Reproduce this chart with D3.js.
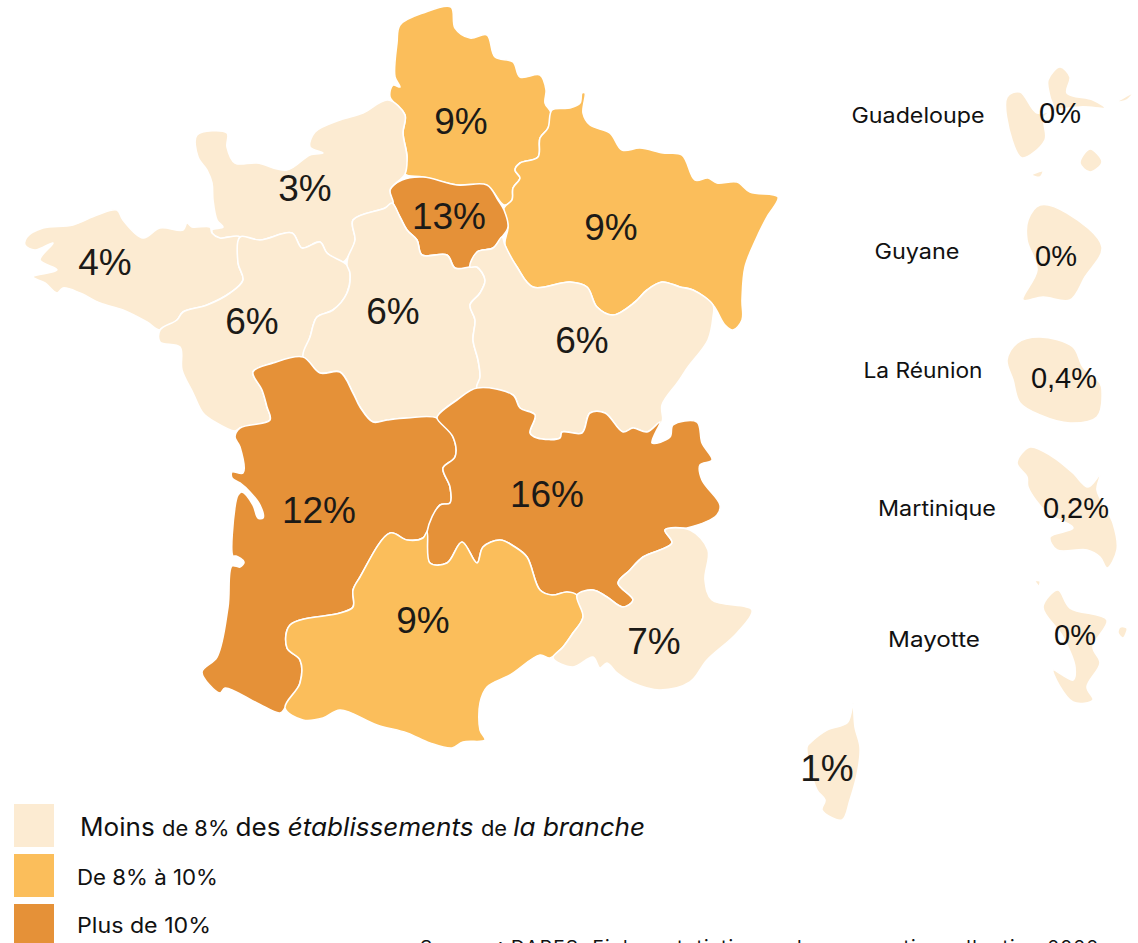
<!DOCTYPE html>
<html lang="fr">
<head>
<meta charset="utf-8">
<title>Répartition régionale des établissements de la branche</title>
<script src="https://cdn.jsdelivr.net/npm/d3@7"></script>
<style>
html, body { margin: 0; background: #fff; overflow: hidden; }
svg { display: block; }
</style>
</head>
<body>
<div id="plot"></div>
<script>
// Regional values, in % of the branch's establishments
const regions = ["Hauts-de-France", "Grand Est", "Île-de-France", "Normandie", "Bretagne", "Pays de la Loire",
    "Centre-Val de Loire", "Bourgogne-Franche-Comté", "Nouvelle-Aquitaine", "Auvergne-Rhône-Alpes",
    "Occitanie", "Provence-Alpes-Côte d'Azur", "Corse"];
const regionValues = [9, 9, 13, 3, 4, 6, 6, 6, 12, 16, 9, 7, 1];

const overseas = ["Guadeloupe", "Guyane", "La Réunion", "Martinique", "Mayotte"];
const overseasValues = [0, 0, 0.4, 0.2, 0];

const legendLabels = ["Moins de 8%", "De 8% à 10%", "Plus de 10%"];
const legendColors = ["#fcebd2", "#fbbe5b", "#e59138"];
const legendBreaks = [8, 10.5];

// Traced outlines, in map units
const outlines = {
    "Hauts-de-France": [[[400,25],[423,13],[451,7],[455,28],[470,38],[487,35],[495,57],[513,62],[520,77],[540,75],[546,90],[545,103],[551,113],[548,128],[540,138],[538,157],[520,163],[515,170],[520,178],[513,188],[512,200],[504,205],[488,187],[457,185],[423,177],[405,174],[407,157],[403,133],[405,115],[390,97],[393,85],[400,87],[395,77],[397,43]]],
    "Grand Est": [[[552,110],[570,108],[580,103],[582,93],[585,93],[583,113],[590,125],[610,133],[622,150],[640,148],[663,153],[682,155],[695,180],[708,178],[717,183],[737,182],[750,192],[778,197],[767,217],[757,237],[745,267],[742,300],[742,320],[733,330],[725,325],[713,305],[693,290],[680,287],[662,282],[647,290],[635,302],[613,315],[597,307],[587,287],[570,282],[533,287],[517,267],[505,245],[508,227],[504,208],[512,200],[513,188],[520,178],[515,170],[520,163],[538,157],[540,138],[548,128]]],
    "Île-de-France": [[[390,190],[402,180],[423,177],[457,185],[487,185],[498,200],[504,210],[508,227],[502,237],[493,248],[477,252],[470,267],[455,268],[447,255],[422,255],[417,240],[407,230],[400,217],[393,203]]],
    "Normandie": [[[197,135],[227,133],[227,147],[235,163],[257,163],[287,170],[310,155],[323,153],[310,147],[315,132],[340,120],[363,113],[388,100],[405,115],[403,133],[407,157],[405,174],[390,190],[393,203],[385,208],[353,220],[355,240],[348,257],[343,262],[327,253],[320,242],[302,248],[292,233],[260,240],[240,237],[227,237],[217,240],[212,230],[223,227],[217,220],[213,200],[212,183],[207,170],[198,157]]],
    "Bretagne": [[[27,237],[43,228],[73,225],[97,215],[117,210],[123,220],[143,238],[160,228],[183,230],[187,223],[192,227],[210,227],[212,233],[220,238],[240,237],[238,263],[243,280],[230,293],[207,305],[183,312],[177,320],[160,330],[147,322],[123,310],[100,303],[80,293],[63,288],[57,293],[45,283],[33,277],[57,270],[40,260],[53,243],[35,250],[25,245]]],
    "Pays de la Loire": [[[240,237],[260,240],[292,233],[302,248],[320,242],[327,253],[347,265],[350,273],[347,293],[333,310],[317,317],[310,337],[303,357],[273,363],[253,372],[262,390],[267,407],[270,420],[240,428],[235,431],[215,422],[203,413],[193,393],[182,370],[180,347],[160,342],[160,330],[177,320],[183,312],[207,305],[230,293],[243,280],[238,263]]],
    "Centre-Val de Loire": [[[385,208],[392,203],[400,217],[407,230],[417,240],[422,255],[447,255],[455,268],[470,267],[477,267],[485,280],[480,293],[470,305],[475,320],[473,340],[478,360],[480,377],[477,388],[457,400],[440,413],[437,418],[407,418],[387,420],[373,422],[360,407],[353,393],[340,372],[320,373],[303,357],[310,337],[317,317],[333,310],[347,293],[350,273],[347,265],[348,257],[355,240],[353,220]]],
    "Bourgogne-Franche-Comté": [[[470,267],[477,252],[493,248],[502,237],[505,245],[517,267],[533,287],[570,282],[587,287],[597,307],[613,315],[635,302],[647,290],[662,282],[680,287],[693,290],[713,305],[713,317],[708,340],[688,367],[678,382],[662,405],[662,422],[647,432],[633,428],[623,432],[605,413],[590,413],[582,433],[562,432],[560,438],[537,438],[530,433],[535,415],[520,408],[513,395],[477,388],[480,377],[478,360],[473,340],[475,320],[470,305],[480,293],[485,280],[477,267]]],
    "Nouvelle-Aquitaine": [[[253,372],[273,363],[303,357],[320,373],[340,372],[353,393],[360,407],[373,422],[387,420],[407,418],[437,418],[453,437],[455,457],[443,468],[450,487],[450,503],[440,505],[427,532],[423,538],[407,540],[390,533],[360,577],[353,590],[353,607],[340,613],[290,625],[287,648],[300,660],[300,683],[285,708],[280,713],[257,703],[225,688],[220,693],[202,672],[217,657],[228,607],[232,566],[240,567],[244,562],[236,556],[233,556],[235,507],[238,495],[242,492],[253,505],[258,518],[263,518],[260,505],[250,492],[240,483],[232,478],[232,472],[243,473],[240,447],[235,437],[240,428],[270,420],[267,407],[262,390]]],
    "Auvergne-Rhône-Alpes": [[[437,418],[440,413],[457,400],[477,388],[513,395],[520,408],[535,415],[530,433],[537,438],[560,438],[562,432],[582,433],[590,413],[605,413],[623,432],[633,428],[647,432],[660,422],[652,443],[670,437],[673,425],[697,422],[702,443],[712,460],[700,465],[702,480],[720,505],[717,515],[687,528],[665,530],[672,543],[643,557],[630,570],[618,583],[633,600],[623,607],[607,597],[593,590],[577,595],[567,592],[552,595],[540,590],[527,557],[515,547],[500,540],[483,547],[477,563],[462,542],[447,563],[430,563],[427,532],[440,505],[450,503],[450,487],[443,468],[455,457],[453,437]]],
    "Occitanie": [[[423,538],[427,532],[430,563],[447,563],[462,542],[477,563],[483,547],[500,540],[515,547],[527,557],[540,590],[552,595],[567,592],[577,595],[583,617],[573,633],[563,647],[550,658],[540,655],[510,675],[487,687],[480,703],[480,730],[485,740],[463,742],[452,748],[430,743],[407,733],[377,725],[340,710],[323,718],[303,720],[285,708],[300,683],[300,660],[287,648],[290,625],[340,613],[353,607],[353,590],[360,577],[390,533],[407,540]]],
    "Provence-Alpes-Côte d'Azur": [[[672,543],[665,530],[690,530],[708,550],[705,580],[712,600],[752,610],[737,633],[707,660],[690,682],[660,690],[633,683],[617,673],[607,663],[600,668],[593,657],[573,667],[553,658],[563,647],[573,633],[583,617],[577,595],[593,590],[607,597],[623,607],[633,600],[618,583],[630,570],[643,557]]],
    "Corse": [[[853,703],[855,727],[860,747],[858,770],[850,800],[842,820],[822,810],[825,800],[817,790],[807,747],[810,743],[827,730],[847,723],[851,713]]],
    "Guadeloupe": [[[1007,97],[1020,92],[1037,113],[1053,108],[1050,97],[1048,80],[1060,67],[1070,77],[1067,93],[1093,100],[1105,108],[1080,107],[1045,116],[1045,140],[1022,158],[1012,140]],[[1090,149],[1102,162],[1090,172],[1080,163]],[[1117,102],[1133,93],[1127,100]],[[1032,175],[1043,171],[1040,177]]],
    "Guyane": [[[1040,205],[1067,213],[1102,247],[1085,277],[1070,300],[1043,297],[1023,300],[1037,270],[1027,240],[1028,220]]],
    "La Réunion": [[[1007,360],[1017,343],[1040,337],[1073,347],[1083,367],[1100,383],[1102,390],[1097,417],[1070,423],[1040,415],[1020,403],[1013,380]]],
    "Martinique": [[[1017,463],[1030,447],[1053,457],[1073,473],[1088,487],[1100,475],[1097,490],[1113,523],[1117,550],[1107,568],[1100,557],[1087,550],[1057,550],[1050,537],[1073,528],[1047,513],[1028,487],[1027,477]]],
    "Mayotte": [[[1043,607],[1058,590],[1070,608],[1107,620],[1093,647],[1100,663],[1087,687],[1093,700],[1073,702],[1053,670],[1073,680],[1075,667],[1063,637]],[[1120,627],[1127,628],[1123,638],[1118,633]],[[1035,581],[1040,581],[1039,586]]]
};

// Anchors of the value labels, in map units
const regionLabelAt = [[461,121],[611,227],[449,216],[305,188],[105,262],[252,321],[393,311],[582,340],[319,510],[547,494],[423,620],[654,641],[827,768]];
const overseasValueAt = [[1060,113],[1056,256],[1064,378],[1076,508],[1075,635]];
const overseasNameAt = [[918,115],[917,251],[923,370],[937,508],[934,639]];
const overseasNameWidths = [133, 85, 119, 118, 92];

const width = 1138;
const height = 943;

const color = d3.scaleThreshold().domain(legendBreaks).range(legendColors);
const projection = d3.geoIdentity();
const format_value = v => `${String(v).replace(".", ",")}%`;

// Closed curves soften the traced corners, like the original's blurry raster
const ring_line = d3.line().curve(d3.curveCatmullRomClosed.alpha(0.5));
const ring_path = name => outlines[name].map(ring => ring_line(ring.map(projection))).join("");

const shapes = [
    ...regions.map((name, i) => ({ name, value: regionValues[i] })),
    ...overseas.map((name, i) => ({ name, value: overseasValues[i] }))
];

const svg = d3.select("#plot").append("svg").attr("width", width).attr("height", height);

svg.append("g")
    .style("filter", "blur(0.6px)")
    .attr("stroke", "#fff")
    .attr("stroke-width", 1.6)
    .attr("stroke-linejoin", "round")
    .selectAll("path")
    .data(shapes)
    .join("path")
    .attr("d", d => ring_path(d.name))
    .attr("fill", d => color(d.value));

svg.append("g")
    .attr("font-family", "'Liberation Sans', Arial, sans-serif")
    .attr("font-size", 37)
    .attr("fill", "#1c1a17")
    .attr("text-anchor", "middle")
    .selectAll("text")
    .data(regions)
    .join("text")
    .attr("x", (d, i) => regionLabelAt[i][0])
    .attr("y", (d, i) => regionLabelAt[i][1])
    .attr("dy", "0.36em")
    .text((d, i) => format_value(regionValues[i]));

svg.append("g")
    .attr("font-family", "'Liberation Sans', Arial, sans-serif")
    .attr("font-size", 29)
    .attr("fill", "#111")
    .attr("text-anchor", "middle")
    .selectAll("text")
    .data(overseas)
    .join("text")
    .attr("x", (d, i) => overseasValueAt[i][0])
    .attr("y", (d, i) => overseasValueAt[i][1])
    .attr("dy", "0.36em")
    .text((d, i) => format_value(overseasValues[i]));

svg.append("g")
    .attr("font-family", "Inter, 'Open Sans', sans-serif")
    .attr("font-size", 21)
    .attr("fill", "#111")
    .attr("text-anchor", "middle")
    .selectAll("text")
    .data(overseas)
    .join("text")
    .attr("x", (d, i) => overseasNameAt[i][0])
    .attr("y", (d, i) => overseasNameAt[i][1])
    .attr("dy", "0.36em")
    .attr("textLength", (d, i) => overseasNameWidths[i])
    .attr("lengthAdjust", "spacingAndGlyphs")
    .text(d => d);

// Legend
const legend_y = d3.scaleBand().domain(legendLabels).range([804, 954]);

svg.append("g")
    .selectAll("rect")
    .data(legendLabels)
    .join("rect")
    .attr("x", 14)
    .attr("y", d => legend_y(d))
    .attr("width", 40)
    .attr("height", 43)
    .attr("fill", (d, i) => legendColors[i]);

const legend_text = svg.append("g")
    .attr("font-family", "Inter, 'Open Sans', sans-serif")
    .attr("fill", "#111");

const first_line = legend_text.append("text").attr("x", 80).attr("y", 836)
    .attr("textLength", 565).attr("lengthAdjust", "spacingAndGlyphs");
first_line.append("tspan").attr("font-size", 25).text("Moins ");
first_line.append("tspan").attr("font-size", 21).text("de 8% ");
first_line.append("tspan").attr("font-size", 25).text("des ");
first_line.append("tspan").attr("font-size", 25).attr("font-style", "italic").text("établissements ");
first_line.append("tspan").attr("font-size", 21).text("de ");
first_line.append("tspan").attr("font-size", 25).attr("font-style", "italic").text("la branche");

legend_text.append("text").attr("x", 77).attr("y", 885).attr("font-size", 21)
    .attr("textLength", 141).attr("lengthAdjust", "spacingAndGlyphs").text(legendLabels[1]);
legend_text.append("text").attr("x", 77).attr("y", 933).attr("font-size", 21)
    .attr("textLength", 134).attr("lengthAdjust", "spacingAndGlyphs").text(legendLabels[2]);

// Source line, cut by the bottom edge as in the original
svg.append("text")
    .attr("x", 420)
    .attr("y", 954)
    .attr("font-family", "Inter, 'Open Sans', sans-serif")
    .attr("font-size", 19)
    .attr("fill", "#111")
    .attr("textLength", 678)
    .attr("lengthAdjust", "spacing")
    .text("Source : DARES, Fiches statistiques des apprentis, collection 2022");
</script>
</body>
</html>
